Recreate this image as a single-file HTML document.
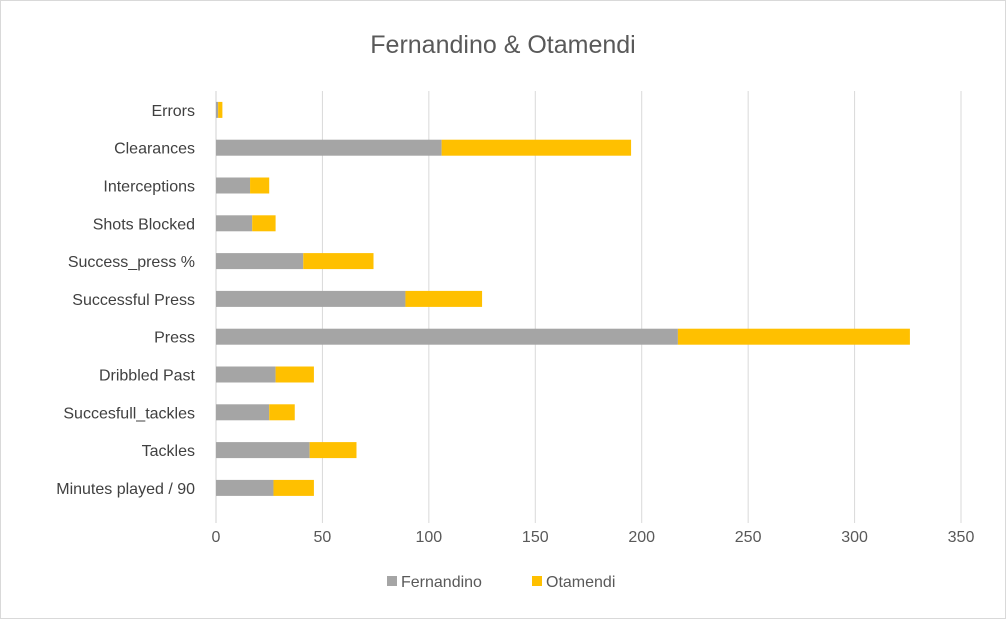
<!DOCTYPE html>
<html><head><meta charset="utf-8"><style>
body{margin:0;background:#fff}
#c{position:relative;width:1006px;height:619px;box-sizing:border-box;border:1px solid #d9d9d9;font-family:"Liberation Sans",sans-serif}
</style></head><body>
<div id="c">
<svg id="s" width="1004" height="617"></svg>
</div>
<script>
const categories=["Errors","Clearances","Interceptions","Shots Blocked","Success_press %","Successful Press","Press","Dribbled Past","Succesfull_tackles","Tackles","Minutes played / 90"];
const fernandino=[1,106,16,17,41,89,217,28,25,44,27];
const otamendi=[2,89,9,11,33,36,109,18,12,22,19];
const ticks=[0,50,100,150,200,250,300,350];
const NS="http://www.w3.org/2000/svg";
const svgEl=document.getElementById('s');
const x0=215,pxPer=(960-215)/350,plotTop=90,band=37.8,bh=16;
const X=v=>x0+v*pxPer;
const Y=i=>plotTop+band*i+band/2;
function mk(t,a){const e=document.createElementNS(NS,t);for(const k in a)e.setAttribute(k,a[k]);svgEl.appendChild(e);return e;}
let t=mk('text',{x:502,y:52,'text-anchor':'middle','font-size':'25','fill':'#595959'});t.textContent="Fernandino & Otamendi";


ticks.forEach(v=>{
 const g=mk('line',{x1:X(v),x2:X(v),y1:90,y2:522,stroke:v===0?'#d0d0d0':'#d9d9d9','stroke-width':1});
 
 
 const l=mk('text',{x:X(v),y:541,'text-anchor':'middle','font-size':'16','fill':'#595959'});l.textContent=v;
 
 
});
categories.forEach((c,i)=>{
 const y=Y(i);
 const l=mk('text',{x:194,y:y+6,'text-anchor':'end','font-size':'16','fill':'#404040'});l.textContent=c;
 
 
 const a=mk('rect',{x:X(0),y:y-bh/2,width:X(fernandino[i])-X(0),height:bh,fill:'#a5a5a5'});
 
 
 const b=mk('rect',{x:X(fernandino[i]),y:y-bh/2,width:X(fernandino[i]+otamendi[i])-X(fernandino[i]),height:bh,fill:'#ffc000'});
 
 
});
[[386,'#a5a5a5','Fernandino'],[531,'#ffc000','Otamendi']].forEach(([x,c,n])=>{
 const r=mk('rect',{x:x,y:575,width:10,height:10,fill:c});
 
 
 const l=mk('text',{x:x+14,y:586,'font-size':'16','fill':'#595959'});l.textContent=n;
 
 
});
</script>
</body></html>
